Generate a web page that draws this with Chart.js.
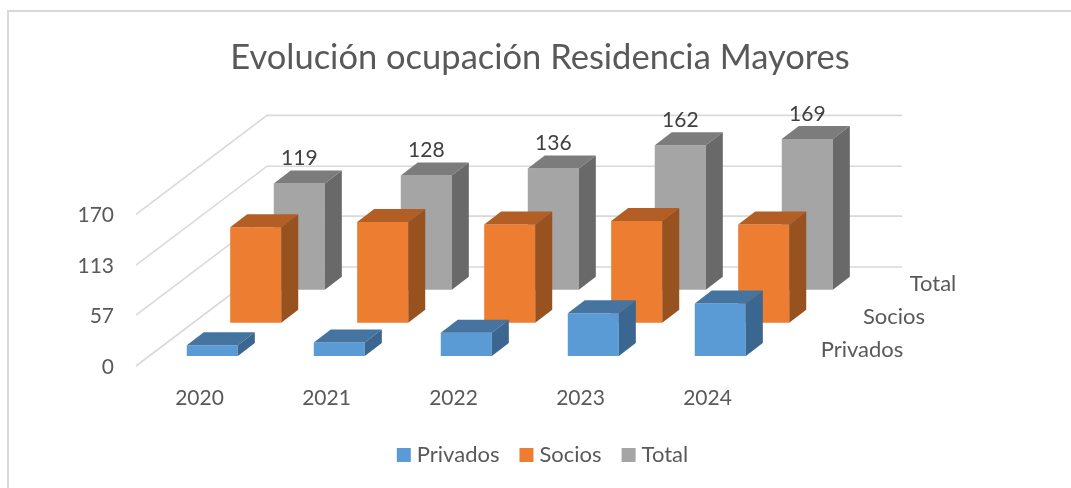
<!DOCTYPE html>
<html lang="es">
<head>
<meta charset="utf-8">
<title>Evolución ocupación Residencia Mayores</title>
<script src="https://cdn.jsdelivr.net/npm/chart.js@4"></script>
<style>
html,body{margin:0;padding:0;background:#fff;overflow:hidden}
canvas{display:block}
</style>
</head>
<body>
<canvas id="c" width="1071" height="488"></canvas>
<script>
const titleText = "Evolución ocupación Residencia Mayores";
const categories = ["2020", "2021", "2022", "2023", "2024"];
const privados = [12, 15, 26, 48, 59];
const socios = [107, 113, 110, 114, 110];
const total = [119, 128, 136, 162, 169];
const axisTicks = [0, 57, 113, 170];

const FONT = "Lato, Carlito, 'Noto Sans', sans-serif";
const TEXT = "#595959";
const GRID = "#d9d9d9";

// Oblique projection of the 3D chart: shift of each series row from the front plane.
const rowShift = [{x: 12.8, y: -10}, {x: 56.2, y: -43.3}, {x: 99.8, y: -76.3}];
const barDepth = {x: 17, y: -13};
const wallDepth = {x: 131, y: -99};
const wallRight = 902;
const faceColors = [
  {top: "#44749f", side: "#3a6690"},
  {top: "#b25e25", side: "#975220"},
  {top: "#7c7c7c", side: "#696969"}
];
const rowLabelPos = [{x: 862, y: 350}, {x: 894, y: 317}, {x: 933, y: 284}];

const scene3d = {
  id: "scene3d",
  afterLayout(chart) {
    chart.legend.left += 5;
    chart.legend.right += 5;
  },
  beforeDraw(chart) {
    const {ctx} = chart;
    ctx.save();
    ctx.strokeStyle = GRID;
    ctx.lineWidth = 2;
    ctx.beginPath();
    ctx.moveTo(8, 488);
    ctx.lineTo(8, 11);
    ctx.lineTo(1071, 11);
    ctx.stroke();
    ctx.restore();
  },
  beforeDatasetsDraw(chart) {
    const {ctx, scales: {x, y}} = chart;
    ctx.save();
    ctx.strokeStyle = GRID;
    ctx.lineWidth = 1.6;
    y.ticks.forEach(t => {
      const py = y.getPixelForValue(t.value);
      ctx.beginPath();
      ctx.moveTo(x.left, py);
      ctx.lineTo(x.left + wallDepth.x, py + wallDepth.y);
      ctx.lineTo(wallRight, py + wallDepth.y);
      ctx.stroke();
    });
    ctx.restore();
  },
  beforeDatasetDraw(chart, args) {
    const s = rowShift[args.index];
    chart.ctx.save();
    chart.ctx.translate(s.x, s.y);
  },
  afterDatasetDraw(chart, args) {
    const {ctx} = chart;
    const f = faceColors[args.index];
    args.meta.data.forEach((bar, i) => {
      const {x, y, base, width} = bar.getProps(["x", "y", "base", "width"], true);
      const l = x - width / 2, r = x + width / 2;
      ctx.fillStyle = f.top;
      ctx.beginPath();
      ctx.moveTo(l, y);
      ctx.lineTo(l + barDepth.x, y + barDepth.y);
      ctx.lineTo(r + barDepth.x, y + barDepth.y);
      ctx.lineTo(r, y);
      ctx.closePath();
      ctx.fill();
      ctx.fillStyle = f.side;
      ctx.beginPath();
      ctx.moveTo(r, y);
      ctx.lineTo(r + barDepth.x, y + barDepth.y);
      ctx.lineTo(r + barDepth.x, base + barDepth.y);
      ctx.lineTo(r, base);
      ctx.closePath();
      ctx.fill();
      if (args.index === 2) {
        const v = chart.data.datasets[2].data[i];
        ctx.fillStyle = "#404040";
        ctx.font = "21px " + FONT;
        ctx.textAlign = "center";
        ctx.textBaseline = "middle";
        ctx.fillText(String(v), x, y - 25);
      }
    });
    ctx.restore();
  },
  afterDatasetsDraw(chart) {
    const {ctx} = chart;
    ctx.save();
    ctx.fillStyle = TEXT;
    ctx.font = "22px " + FONT;
    ctx.textAlign = "center";
    ctx.textBaseline = "middle";
    chart.data.datasets.forEach((d, i) => {
      ctx.fillText(d.label, rowLabelPos[i].x, rowLabelPos[i].y);
    });
    ctx.restore();
  }
};

function ds(label, data, color) {
  return {label, data, backgroundColor: color, borderColor: color, borderWidth: 0, clip: false};
}

new Chart(document.getElementById("c"), {
  type: "bar",
  plugins: [scene3d],
  data: {
    labels: categories,
    datasets: [
      ds("Privados", privados, "#5b9bd5"),
      ds("Socios", socios, "#ed7d31"),
      ds("Total", total, "#a5a5a5")
    ]
  },
  options: {
    responsive: false,
    animation: false,
    devicePixelRatio: 1,
    datasets: {bar: {grouped: false, categoryPercentage: 0.402, barPercentage: 1}},
    layout: {padding: {left: 9, right: 0, top: 12, bottom: 12}},
    scales: {
      x: {
        type: "category",
        offset: true,
        grid: {display: false, drawTicks: false},
        border: {display: false},
        ticks: {color: TEXT, font: {family: FONT, size: 21}, padding: 20, maxRotation: 0},
        afterFit(s) { s.height = 53; }
      },
      y: {
        type: "linear",
        min: 0,
        max: 170,
        grid: {display: false, drawTicks: false},
        border: {display: false},
        afterBuildTicks(s) { s.ticks = axisTicks.map(value => ({value})); },
        afterFit(s) { s.width = 127; },
        ticks: {color: TEXT, font: {family: FONT, size: 21}, padding: 22, labelOffset: 1}
      },
      sideSpace: {
        type: "linear",
        position: "right",
        display: true,
        grid: {display: false, drawTicks: false},
        border: {display: false},
        ticks: {display: false},
        afterFit(s) { s.width = 300; }
      }
    },
    plugins: {
      tooltip: {enabled: false},
      title: {
        display: true,
        text: titleText,
        color: TEXT,
        font: {family: FONT, size: 34.5, weight: "normal"},
        padding: {top: 25, bottom: 136}
      },
      legend: {
        position: "bottom",
        labels: {
          color: TEXT,
          font: {family: FONT, size: 22},
          boxWidth: 4,
          boxHeight: 4,
          padding: 25,
          generateLabels(chart) {
            return chart.data.datasets.map((d, i) => ({
              text: d.label,
              fillStyle: d.backgroundColor,
              strokeStyle: d.backgroundColor,
              lineWidth: 10,
              fontColor: TEXT,
              datasetIndex: i
            }));
          }
        }
      }
    }
  }
});
</script>
</body>
</html>
